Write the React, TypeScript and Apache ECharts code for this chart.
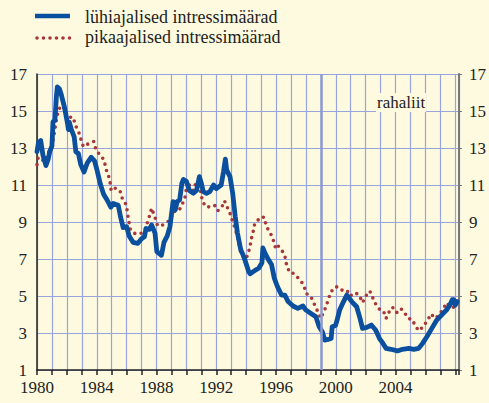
import React, { useEffect, useRef } from "react";
import * as echarts from "echarts";

const shortLabel = "lühiajalised intressimäärad";
const longLabel = "pikaajalised intressimäärad";
const euroLabel = "rahaliit";
const euroYear = 1999;

const shortDates = [
  1980.0, 1980.1, 1980.25, 1980.4, 1980.6, 1980.75, 1980.85, 1981.0, 1981.07, 1981.2,
  1981.3, 1981.36, 1981.5, 1981.62, 1981.84, 1982.05, 1982.1, 1982.16, 1982.3, 1982.49,
  1982.6, 1982.77, 1982.93, 1983.15, 1983.37, 1983.63, 1983.85, 1984.02, 1984.24, 1984.46,
  1984.72, 1984.94, 1985.1, 1985.44, 1985.6, 1985.77, 1986.0, 1986.16, 1986.43, 1986.75,
  1987.0, 1987.19, 1987.3, 1987.52, 1987.67, 1987.9, 1988.02, 1988.33, 1988.5, 1988.72,
  1988.9, 1989.11, 1989.26, 1989.38, 1989.55, 1989.7, 1989.8, 1990.0, 1990.2, 1990.47,
  1990.68, 1990.87, 1991.0, 1991.13, 1991.35, 1991.57, 1991.82, 1992.0, 1992.33, 1992.48,
  1992.61, 1992.7, 1992.92, 1993.1, 1993.27, 1993.42, 1993.64, 1993.86, 1994.18, 1994.27,
  1994.62, 1994.84, 1995.06, 1995.12, 1995.27, 1995.5, 1995.7, 1995.89, 1996.1, 1996.37,
  1996.59, 1996.81, 1997.14, 1997.46, 1997.8, 1998.0, 1998.34, 1998.67, 1998.89, 1999.1,
  1999.26, 1999.48, 1999.69, 1999.76, 1999.98, 2000.09, 2000.26, 2000.52, 2000.74, 2001.07,
  2001.4, 2001.62, 2001.79, 2002.07, 2002.38, 2002.67, 2002.93, 2003.15, 2003.37, 2003.7,
  2004.13, 2004.46, 2004.9, 2005.22, 2005.55, 2005.81, 2006.1, 2006.43, 2006.76, 2007.08,
  2007.41, 2007.63, 2007.8, 2007.9, 2008.0, 2008.13,
];
const shortRates = [
  12.8, 13.3, 13.4, 12.6, 12.05, 12.4, 12.8, 13.1, 14.4, 14.5,
  15.8, 16.3, 16.2, 15.9, 15.2, 14.3, 14.0, 14.4, 14.0, 13.6,
  12.8, 12.7, 12.1, 11.7, 12.2, 12.5, 12.3, 11.8, 11.05, 10.5,
  10.15, 9.8, 10.0, 9.9, 9.25, 8.7, 8.75, 8.26, 7.9, 7.85,
  8.1, 8.2, 8.65, 8.6, 8.84, 8.4, 7.4, 7.2, 7.9, 8.25,
  8.75, 10.1, 9.66, 10.1, 10.2, 11.1, 11.3, 11.2, 10.7, 10.55,
  10.7, 11.45, 11.1, 10.64, 10.55, 10.64, 11.0, 10.8, 11.0, 11.7,
  12.4, 11.8, 11.45, 10.55, 9.3, 8.4, 7.5, 7.1, 6.3, 6.2,
  6.4, 6.5, 6.8, 7.6, 7.3, 6.95, 6.7, 5.95, 5.5, 5.05,
  5.05, 4.7, 4.46, 4.33, 4.46, 4.24, 4.06, 3.88, 3.34, 3.07,
  2.62, 2.65, 2.7, 3.34, 3.4, 3.7, 4.24, 4.7, 5.05, 4.7,
  4.42, 3.8, 3.25, 3.3, 3.43, 3.16, 2.7, 2.45, 2.17, 2.12,
  2.03, 2.12, 2.17, 2.12, 2.17, 2.44, 2.8, 3.25, 3.7, 3.97,
  4.24, 4.5, 4.8, 4.8, 4.5, 4.7,
];

const longDates = [
  1980.0, 1980.08, 1980.3, 1980.5, 1980.64, 1980.96, 1981.07, 1981.18, 1981.25, 1981.33,
  1981.5, 1981.73, 1981.9, 1982.1, 1982.43, 1982.56, 1982.78, 1982.93, 1983.1, 1983.37,
  1983.8, 1983.95, 1984.24, 1984.5, 1984.6, 1984.79, 1984.9, 1984.96, 1985.18, 1985.55,
  1985.7, 1985.99, 1986.05, 1986.14, 1986.25, 1986.5, 1986.87, 1987.2, 1987.52, 1987.67,
  1987.9, 1988.07, 1988.33, 1988.68, 1988.94, 1989.11, 1989.49, 1989.7, 1989.92, 1989.99,
  1990.2, 1990.47, 1990.64, 1990.87, 1990.97, 1991.08, 1991.34, 1991.6, 1991.89, 1992.1,
  1992.4, 1992.55, 1992.77, 1992.94, 1993.1, 1993.27, 1993.42, 1993.53, 1993.64, 1993.8,
  1993.95, 1994.1, 1994.25, 1994.34, 1994.47, 1994.58, 1994.84, 1995.06, 1995.23, 1995.34,
  1995.56, 1995.72, 1995.89, 1995.98, 1996.15, 1996.44, 1996.66, 1996.7, 1996.92, 1997.2,
  1997.36, 1997.57, 1997.86, 1998.01, 1998.34, 1998.56, 1998.77, 1999.0, 1999.17, 1999.32,
  1999.48, 1999.65, 1999.91, 2000.13, 2000.41, 2000.74, 2000.96, 2001.29, 2001.57, 2001.79,
  2002.01, 2002.28, 2002.49, 2002.67, 2002.93, 2003.19, 2003.37, 2003.48, 2003.8, 2004.07,
  2004.35, 2004.57, 2004.85, 2005.11, 2005.38, 2005.62, 2005.88, 2006.14, 2006.36, 2006.69,
  2006.97, 2007.19, 2007.41, 2007.69, 2007.91, 2008.0,
];
const longRates = [
  12.1, 12.5, 12.4, 12.26, 12.6, 12.98, 13.4, 13.9, 14.3, 14.7,
  15.14, 15.3, 14.96, 14.66, 14.66, 14.24, 13.9, 13.5, 13.07, 13.2,
  13.35, 12.9, 12.6, 12.35, 11.9, 11.5, 11.1, 10.7, 10.85, 10.7,
  10.3, 9.9, 9.5, 9.07, 8.6, 8.39, 8.35, 8.5, 9.3, 9.75,
  9.25, 8.8, 8.8, 8.96, 9.14, 9.56, 9.6, 9.9, 10.37, 10.76,
  11.0, 10.7, 11.13, 11.0, 10.6, 10.1, 9.8, 9.83, 9.9, 9.6,
  9.86, 10.15, 9.74, 9.43, 9.0, 8.65, 8.2, 7.8, 7.36, 7.1,
  6.98, 7.2, 7.63, 8.06, 8.48, 8.93, 9.14, 9.29, 9.23, 8.78,
  8.48, 8.24, 7.85, 7.54, 7.7, 7.4, 7.0, 6.68, 6.26, 6.22,
  6.08, 5.9, 5.6, 5.15, 4.96, 4.57, 4.2, 3.79, 4.1, 4.37,
  4.75, 5.18, 5.47, 5.5, 5.32, 5.32, 5.0, 5.18, 5.05, 4.64,
  5.0, 5.27, 4.88, 4.57, 4.28, 4.2, 3.79, 4.03, 4.39, 4.1,
  4.32, 4.14, 3.78, 3.74, 3.3, 3.12, 3.41, 3.66, 4.03, 3.79,
  4.06, 4.28, 4.64, 4.39, 4.39, 4.24,
];

const FONT = "'Liberation Serif', 'DejaVu Serif', serif";
const BG = "#fefadf";
const BLUE = "#0b4f9f";
const RED = "#a8363a";
const GRID = "#97a5dc";
const RED_DASH = [0, 6.5];

export default function App() {
  const ref = useRef<HTMLDivElement>(null);
  useEffect(() => {
    if (!ref.current) return;
    const chart = echarts.init(ref.current, undefined, { renderer: "svg" });
    const shortData = shortDates.map((d, i) => [d, shortRates[i]]);
    const longData = longDates.map((d, i) => [d, longRates[i]]);
    chart.setOption({
      animation: false,
      backgroundColor: BG,
      textStyle: { fontFamily: FONT },
      grid: { left: 37, right: 21, top: 74, bottom: 33, containLabel: false },
      xAxis: {
        type: "value",
        min: 1980,
        max: 2008.25,
        interval: 1,
        axisLine: { show: true, onZero: false, lineStyle: { color: "#222", width: 1.5 } },
        axisTick: { show: true, length: 5, inside: false, lineStyle: { color: "#222", width: 1.5 } },
        axisLabel: {
          fontFamily: FONT,
          fontSize: 17,
          color: "#222",
          margin: 9,
          formatter: (v: number) => {
            const k = Math.round(v);
            return Math.abs(v - k) < 1e-6 && (k - 1980) % 4 === 0 && k <= 2004 ? String(k) : "";
          },
        },
        splitLine: { show: true, lineStyle: { color: GRID, width: 1.2 } },
      },
      yAxis: [
        {
          type: "value",
          min: 1,
          max: 17,
          interval: 2,
          position: "left",
          axisLine: { show: true, lineStyle: { color: "#222", width: 1.5 } },
          axisTick: { show: false },
          axisLabel: { fontFamily: FONT, fontSize: 17, color: "#222", margin: 10 },
          splitLine: { show: true, lineStyle: { color: GRID, width: 1.2 } },
        },
        {
          type: "value",
          min: 1,
          max: 17,
          interval: 2,
          position: "right",
          axisLine: { show: true, lineStyle: { color: "#777", width: 2 } },
          axisTick: { show: true, length: 3, lineStyle: { color: "#777" } },
          axisLabel: { fontFamily: FONT, fontSize: 17, color: "#222", margin: 10 },
          splitLine: { show: false },
        },
      ],
      graphic: [
        {
          type: "line",
          shape: { x1: 35, y1: 16, x2: 70, y2: 16 },
          style: { stroke: BLUE, lineWidth: 4.5 },
        },
        {
          type: "line",
          shape: { x1: 37, y1: 38, x2: 71, y2: 38 },
          style: { stroke: RED, lineWidth: 3.6, lineDash: RED_DASH, lineCap: "round" },
        },
        {
          type: "text",
          x: 85,
          y: 16.5,
          style: { text: shortLabel, font: `18px ${FONT}`, fill: "#222", textVerticalAlign: "middle" },
        },
        {
          type: "text",
          x: 85,
          y: 37,
          style: { text: longLabel, font: `18px ${FONT}`, fill: "#222", textVerticalAlign: "middle" },
        },
        {
          type: "text",
          left: 376,
          top: 93,
          z: 10,
          style: {
            text: euroLabel,
            font: `17px ${FONT}`,
            fill: "#222",
            backgroundColor: BG,
            padding: [1, 1, 1, 1],
          },
        },
      ],
      series: [
        {
          name: shortLabel,
          type: "line",
          data: shortData,
          symbol: "none",
          z: 4,
          lineStyle: { color: BLUE, width: 4.8, join: "round", cap: "round" },
          itemStyle: { color: BLUE },
          markLine: {
            silent: true,
            symbol: ["none", "none"],
            label: { show: false },
            lineStyle: { color: "#8c9ad2", width: 2.5, type: "solid" },
            data: [{ xAxis: euroYear }],
          },
        },
        {
          name: longLabel,
          type: "line",
          data: longData,
          symbol: "none",
          z: 3,
          lineStyle: { color: RED, width: 3.6, type: RED_DASH, cap: "round" },
          itemStyle: { color: RED },
        },
      ],
    });
    return () => chart.dispose();
  }, []);
  return <div ref={ref} style={{ width: 489, height: 403, position: "absolute", left: 0, top: 0 }} />;
}
